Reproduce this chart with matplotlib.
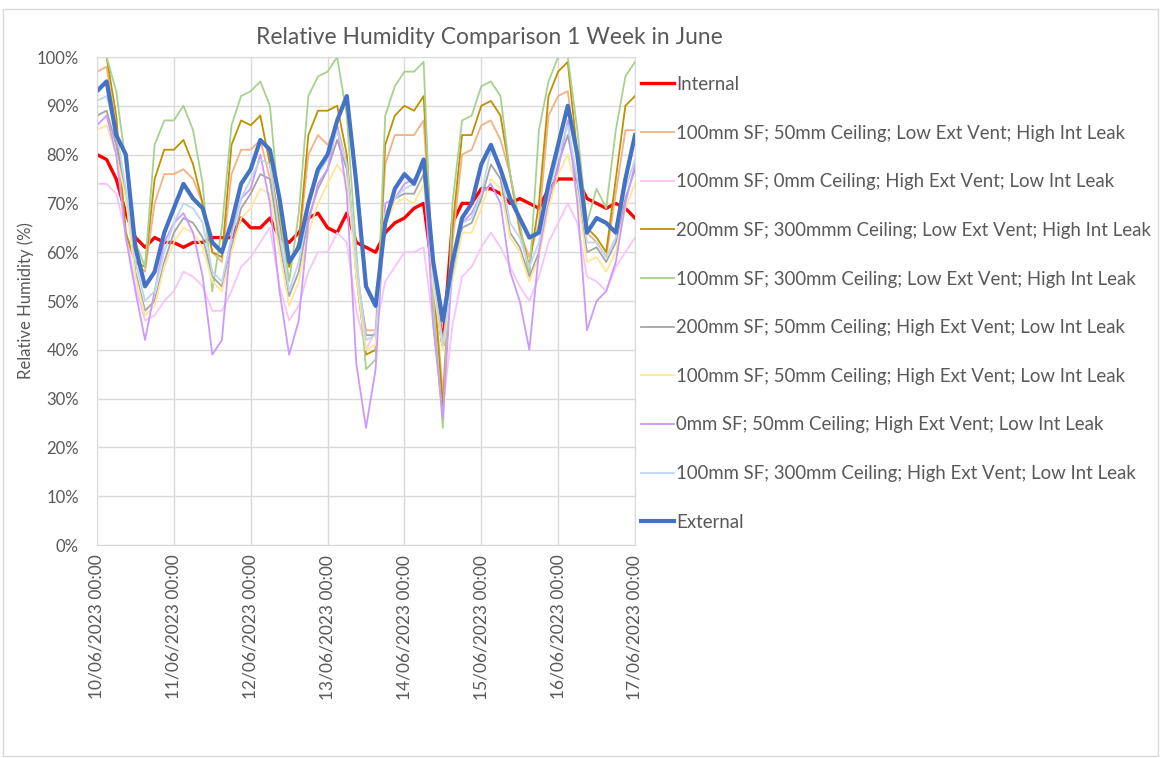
import matplotlib
matplotlib.use("Agg")
import matplotlib.pyplot as plt
import pandas as pd
from matplotlib.patches import Rectangle

# 3-hourly readings, 10/06/2023 00:00 to 17/06/2023 00:00
times = pd.date_range("2023-06-10 00:00", "2023-06-17 00:00", freq="3h")

internal = [80, 79, 75, 68, 63, 61, 63, 62,
            62, 61, 62, 62, 63, 63, 63, 67,
            65, 65, 67, 63, 62, 64, 67, 68,
            65, 64, 68, 62, 61, 60, 64, 66,
            67, 69, 70, 55, 41, 66, 70, 70,
            73, 73, 72, 70, 71, 70, 69, 73,
            75, 75, 75, 71, 70, 69, 70, 69,
            67]
sf100_c50_lowvent = [97, 98, 85, 63, 58, 56, 70, 76,
                     76, 77, 75, 70, 60, 58, 76, 81,
                     81, 83, 75, 65, 57, 61, 80, 84,
                     82, 86, 78, 55, 44, 44, 78, 84,
                     84, 84, 87, 55, 31, 62, 80, 81,
                     86, 87, 83, 76, 64, 59, 66, 88,
                     92, 93, 78, 64, 62, 59, 72, 85,
                     85]
sf100_c0_highvent = [74, 74, 72, 64, 53, 46, 47, 50,
                     52, 56, 55, 53, 48, 48, 52, 57,
                     59, 62, 65, 53, 46, 49, 56, 60,
                     60, 64, 62, 48, 40, 44, 54, 57,
                     60, 60, 61, 45, 28, 45, 55, 57,
                     61, 64, 61, 57, 53, 50, 55, 62,
                     66, 70, 66, 55, 54, 52, 57, 60,
                     63]
sf200_c300_lowvent = [100, 100, 88, 64, 58, 57, 75, 81,
                      81, 83, 78, 70, 60, 59, 82, 87,
                      86, 88, 78, 66, 57, 62, 84, 89,
                      89, 90, 80, 55, 39, 40, 82, 88,
                      90, 89, 92, 55, 28, 65, 84, 84,
                      90, 91, 88, 76, 65, 57, 70, 92,
                      97, 99, 80, 65, 63, 60, 75, 90,
                      92]
sf100_c300_lowvent = [100, 100, 93, 78, 62, 57, 82, 87,
                      87, 90, 85, 74, 52, 65, 86, 92,
                      93, 95, 90, 68, 54, 68, 92, 96,
                      97, 100, 88, 60, 36, 38, 88, 94,
                      97, 97, 99, 50, 24, 70, 87, 88,
                      94, 95, 92, 76, 66, 55, 85, 95,
                      100, 100, 85, 66, 73, 69, 85, 96,
                      99]
sf200_c50_highvent = [88, 89, 82, 72, 56, 48, 50, 58,
                      64, 67, 66, 63, 55, 53, 61, 69,
                      72, 76, 75, 62, 51, 56, 67, 73,
                      77, 83, 77, 57, 43, 43, 67, 71,
                      72, 72, 76, 54, 42, 55, 65, 66,
                      71, 78, 75, 64, 61, 55, 60, 70,
                      78, 84, 74, 60, 61, 58, 62, 71,
                      77]
sf100_c50_highvent = [85, 86, 80, 71, 55, 47, 49, 57,
                      62, 65, 64, 61, 54, 52, 60, 67,
                      69, 73, 72, 60, 49, 54, 64, 70,
                      74, 78, 75, 55, 40, 41, 66, 70,
                      71, 70, 74, 53, 40, 54, 64, 64,
                      69, 75, 73, 63, 60, 54, 59, 69,
                      76, 80, 72, 58, 59, 56, 60, 69,
                      74]
sf0_c50_highvent = [86, 88, 80, 63, 52, 42, 52, 62,
                    66, 68, 64, 55, 39, 42, 64, 71,
                    73, 80, 70, 52, 39, 46, 66, 74,
                    77, 86, 72, 37, 24, 36, 70, 71,
                    74, 75, 78, 45, 26, 58, 66, 68,
                    72, 74, 70, 56, 50, 40, 60, 71,
                    77, 87, 70, 44, 50, 52, 58, 70,
                    78]
sf100_c300_highvent = [91, 92, 85, 73, 58, 50, 52, 60,
                       66, 70, 69, 66, 56, 54, 63, 71,
                       75, 79, 78, 64, 52, 58, 69, 76,
                       79, 85, 78, 58, 42, 43, 68, 71,
                       73, 74, 78, 55, 41, 56, 66, 67,
                       72, 81, 77, 66, 63, 57, 62, 72,
                       80, 86, 75, 62, 62, 59, 63, 73,
                       79]
external = [93, 95, 84, 80, 61, 53, 56, 64,
            69, 74, 71, 69, 62, 60, 66, 74,
            77, 83, 81, 71, 58, 61, 70, 77,
            80, 87, 92, 74, 53, 49, 66, 73,
            76, 74, 79, 58, 46, 58, 67, 70,
            78, 82, 77, 71, 67, 63, 64, 74,
            82, 90, 80, 64, 67, 66, 64, 75,
            84]

series = [
    ("Internal", internal, "#FF0000", 2.4),
    ("100mm SF; 50mm Ceiling; Low Ext Vent; High Int Leak", sf100_c50_lowvent, "#F4B183", 1.3),
    ("100mm SF; 0mm Ceiling; High Ext Vent; Low Int Leak", sf100_c0_highvent, "#F8C4F8", 1.3),
    ("200mm SF; 300mmm Ceiling; Low Ext Vent; High Int Leak", sf200_c300_lowvent, "#BF9000", 1.3),
    ("100mm SF; 300mm Ceiling; Low Ext Vent; High Int Leak", sf100_c300_lowvent, "#A9D18E", 1.3),
    ("200mm SF; 50mm Ceiling; High Ext Vent; Low Int Leak", sf200_c50_highvent, "#A5A5A5", 1.3),
    ("100mm SF; 50mm Ceiling; High Ext Vent; Low Int Leak", sf100_c50_highvent, "#FFE699", 1.3),
    ("0mm SF; 50mm Ceiling; High Ext Vent; Low Int Leak", sf0_c50_highvent, "#CC99FF", 1.3),
    ("100mm SF; 300mm Ceiling; High Ext Vent; Low Int Leak", sf100_c300_highvent, "#BDD7EE", 1.3),
    ("External", external, "#4472C4", 3.0),
]

tick_times = pd.date_range("2023-06-10", "2023-06-17", freq="D")
tick_labels = [t.strftime("%d/%m/%Y %H:%M") for t in tick_times]

plt.rcParams["font.family"] = ["Lato", "DejaVu Sans"]
txt = "#595959"
grid = "#D9D9D9"

fig = plt.figure(figsize=(11.62, 7.58), dpi=100)
fig.patches.append(Rectangle((3 / 1162, 2 / 758), 1155 / 1162, 747 / 758,
                             transform=fig.transFigure, fill=False,
                             edgecolor=grid, linewidth=1))
ax = fig.add_axes([97 / 1162, 1 - 545 / 758, 538 / 1162, 488 / 758])

for name, vals, col, lw in series:
    ax.plot(times, vals, color=col, linewidth=lw, label=name)

ax.set_xlim(tick_times[0], tick_times[-1])
ax.set_ylim(0, 100)
ax.set_yticks(range(0, 101, 10))
ax.set_yticklabels([f"{v}%" for v in range(0, 101, 10)])
ax.set_xticks(tick_times)
ax.set_xticklabels(tick_labels, rotation=90)
ax.tick_params(axis="both", length=0, labelsize=12.5, labelcolor=txt)
ax.tick_params(axis="x", pad=7)
ax.tick_params(axis="y", labelsize=12, pad=13)
ax.grid(True, color=grid, linewidth=1)
ax.set_axisbelow(True)
for s in ax.spines.values():
    s.set_color(grid)

ax.set_ylabel("Relative Humidity (%)", fontsize=12, color=txt, labelpad=2)
fig.text(489 / 1162, 1 - 38 / 758, "Relative Humidity Comparison 1 Week in June",
         ha="center", va="center", fontsize=16.4, color=txt)

ax.legend(loc="upper left", bbox_to_anchor=(641 / 1162, 1 - 76 / 758),
          bbox_transform=fig.transFigure, frameon=False, fontsize=13.4,
          labelcolor=txt, handlelength=1.75, handletextpad=0.15,
          labelspacing=1.7, borderaxespad=0, borderpad=0)

fig.savefig("out.png", dpi=100)
